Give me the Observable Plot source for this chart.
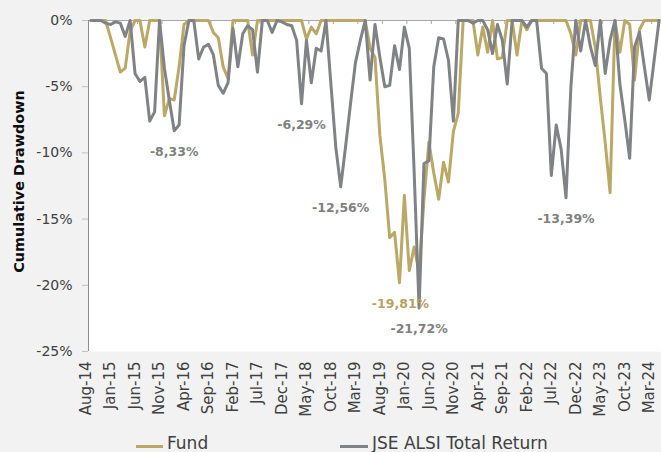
<!DOCTYPE html>
<html>
<head>
<meta charset="utf-8">
<script src="https://cdn.jsdelivr.net/npm/d3@7"></script>
<script src="https://cdn.jsdelivr.net/npm/@observablehq/plot@0.6"></script>
<style>
  html, body { margin: 0; padding: 0; background: #f2f2f2; }
  #wrap { position: relative; width: 661px; height: 452px; overflow: hidden; background: #f2f2f2; font-family: "DejaVu Sans", sans-serif; }
  .lg-line { position: absolute; height: 3px; }
  .lg-text { position: absolute; font-size: 17px; line-height: 16px; color: #404040; white-space: nowrap; }
</style>
</head>
<body>
<div id="wrap"></div>
<script>
// ---- data ----
const monthLabels = d3.utcMonths(new Date(Date.UTC(2014, 7, 1)), new Date(Date.UTC(2024, 4, 1)))
  .map(d3.utcFormat("%b-%y"));

const tickLabels = ["Aug-14","Jan-15","Jun-15","Nov-15","Apr-16","Sep-16","Feb-17","Jul-17","Dec-17","May-18",
  "Oct-18","Mar-19","Aug-19","Jan-20","Jun-20","Nov-20","Apr-21","Sep-21","Feb-22","Jul-22","Dec-22","May-23","Oct-23","Mar-24"];

const yTicks = [0, -5, -10, -15, -20, -25];

const fund = [
  0, 0, 0, 0, -1.3, -2.6, -3.9, -3.6, -0.8, 0,
  0, -2.0, 0, 0, 0, -7.2, -5.9, -6.0, -3.5, -0.3,
  0, 0, 0, 0, 0, -0.9, -1.3, -3.5, -4.4, 0,
  0, 0, 0, -2.6, 0, 0, 0, 0, 0, 0,
  0, 0, 0, 0, -1.4, -0.5, -1.0, 0, 0, 0,
  0, 0, 0, 0, 0, 0, 0, -2.1, -2.8, -8.7,
  -12.0, -16.4, -16.0, -19.81, -13.2, -18.9, -17.1, -19.0, -13.5, -9.2,
  -11.5, -13.5, -10.7, -12.2, -8.4, -7.0, 0, 0, 0, -2.6,
  -0.5, -2.4, 0, -2.9, -2.8, 0, 0, -2.6, 0, -0.7,
  0, 0, 0, 0, 0, 0, 0, 0, -1.0, -2.6,
  0, 0, 0, -2.1, -5.8, -9.2, -13.0, 0, -2.4, 0,
  -0.3, -4.5, -0.7, 0, 0, 0, 0
];

const alsi = [
  0, 0, 0, -0.2, -0.3, -0.1, -0.2, -1.2, 0, -4.0,
  -4.6, -4.3, -7.6, -6.9, 0, -3.6, -6.0, -8.33, -7.9, -1.9,
  0, 0, -2.9, -2.0, -1.8, -2.6, -4.9, -5.5, -4.7, -0.6,
  -3.5, -1.0, -0.4, -0.7, -3.9, 0, 0, -0.9, 0, -0.1,
  -0.3, -0.4, -1.5, -6.29, -1.5, -4.7, -2.1, -2.3, 0, -4.8,
  -9.6, -12.56, -9.5, -6.3, -3.2, -1.5, 0, -4.5, -0.3, -2.8,
  -5.0, -4.9, -1.9, -3.7, -0.5, -2.1, -11.5, -21.72, -10.8, -10.6,
  -3.5, -1.3, -1.4, -3.0, -7.6, 0, 0, 0, -0.2, 0,
  0, -0.7, -2.5, -0.3, -1.5, -4.8, 0, 0, 0, -0.5,
  0, 0, -3.6, -4.0, -11.7, -7.9, -9.7, -13.39, -5.0, 0,
  -2.3, 0, -2.0, -3.4, 0, -4.0, -1.5, 0, -4.8, -7.5,
  -10.4, -2.0, -0.9, -3.5, -6.0, -3.0, 0
];

const seriesNames = ["Fund", "JSE ALSI Total Return"];
const annotations = [
  {series: "JSE ALSI Total Return", month: "Jan-16", value: -8.33},
  {series: "JSE ALSI Total Return", month: "Mar-18", value: -6.29},
  {series: "JSE ALSI Total Return", month: "Nov-18", value: -12.56},
  {series: "Fund", month: "Nov-19", value: -19.81},
  {series: "JSE ALSI Total Return", month: "Mar-20", value: -21.72},
  {series: "JSE ALSI Total Return", month: "Sep-22", value: -13.39}
];

// ---- styling ----
const gold = "#bca866";
const grey = "#808285";
const goldText = "#b8a260";
const greyText = "#7f7f7f";
const fmt = v => (v < 0 ? "-" : "") + Math.abs(v).toFixed(2).replace(".", ",") + "%";

const idx = m => monthLabels.indexOf(m);
const tickIdx = tickLabels.map(idx);
const tickMarks = tickIdx.slice(1).map(i => i - 0.5);
const ann = annotations.map(a => ({...a, i: idx(a.month), label: fmt(a.value)}));

const chart = Plot.plot({
  width: 661,
  height: 430,
  marginLeft: 88,
  marginRight: 0,
  marginTop: 20,
  marginBottom: 79,
  x: {domain: [-0.5, monthLabels.length - 0.5], axis: null},
  y: {domain: [-25, 0], axis: null},
  style: {fontFamily: "DejaVu Sans", fontSize: "14px", background: "#f2f2f2", color: "#404040", overflow: "visible"},
  marks: [
    Plot.frame({fill: "white", stroke: "none"}),
    Plot.ruleX(tickMarks, {x: d => d, y1: 0, y2: -0.3, stroke: "#a6a6a6"}),
    Plot.ruleY([0], {stroke: "#a6a6a6"}),
    Plot.ruleX([-0.5], {stroke: "#8c8c8c"}),
    Plot.lineY(fund, {x: (d, i) => i, y: d => d, stroke: gold, strokeWidth: 3, strokeLinejoin: "round"}),
    Plot.lineY(alsi, {x: (d, i) => i, y: d => d, stroke: grey, strokeWidth: 3, strokeLinejoin: "round"}),
    Plot.text(ann.filter(a => a.series === seriesNames[1]), {x: "i", y: "value", text: "label", dy: 21, fill: greyText, fontWeight: "bold", fontSize: 12.5}),
    Plot.text(ann.filter(a => a.series === seriesNames[0]), {x: "i", y: "value", text: "label", dy: 21, dx: 1, fill: goldText, fontWeight: "bold", fontSize: 12.5}),
    Plot.axisY({ticks: yTicks, tickFormat: d => `${d}%`, tickSize: 6, tickPadding: 10, stroke: "#bfbfbf", fill: "#404040", fontSize: 14, label: null}),
    Plot.text(tickIdx, {x: d => d, text: d => monthLabels[d], frameAnchor: "bottom", dy: 10, rotate: -90, textAnchor: "end", fontSize: 15, fill: "#404040"}),
    Plot.text(["Cumulative Drawdown"], {text: d => d, frameAnchor: "left", textAnchor: "middle", rotate: -90, dx: -69, dy: -4.5, fontSize: 14.4, fontWeight: "bold", fill: "#0d0d0d"})
  ]
});

const wrap = document.getElementById("wrap");
wrap.appendChild(chart);

// legend
const legendItems = [
  {name: seriesNames[0], color: gold, lineLeft: 136, lineWidth: 27, textLeft: 167},
  {name: seriesNames[1], color: grey, lineLeft: 340, lineWidth: 28, textLeft: 372}
];
for (const it of legendItems) {
  const ln = document.createElement("div");
  ln.className = "lg-line";
  ln.style.left = it.lineLeft + "px";
  ln.style.top = "444.5px";
  ln.style.width = it.lineWidth + "px";
  ln.style.background = it.color;
  wrap.appendChild(ln);
  const tx = document.createElement("div");
  tx.className = "lg-text";
  tx.style.left = it.textLeft + "px";
  tx.style.top = "435px";
  tx.textContent = it.name;
  wrap.appendChild(tx);
}
</script>
</body>
</html>
